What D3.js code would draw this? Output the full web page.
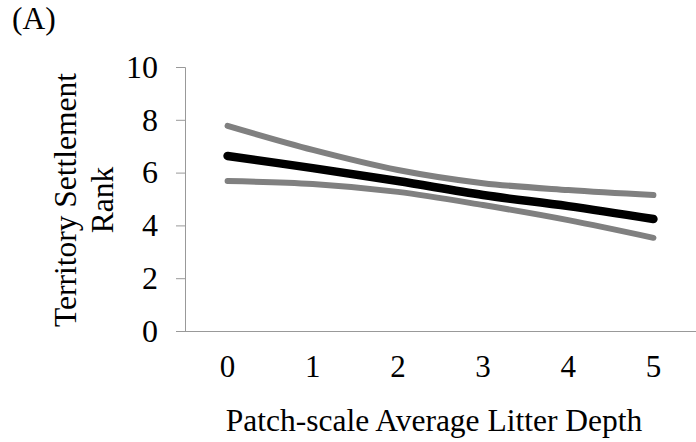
<!DOCTYPE html>
<html>
<head>
<meta charset="utf-8">
<script src="https://cdn.jsdelivr.net/npm/d3@7"></script>
<style>
  body { margin: 0; background: #fff; }
  text { font-family: "Liberation Serif", "Times New Roman", serif; fill: #000; }
</style>
</head>
<body>
<div id="chart"></div>
<script>
// litter depth categories and fitted settlement rank with bounds
const depths = [0, 1, 2, 3, 4, 5]
const fitted = [6.63, 6.17, 5.68, 5.15, 4.73, 4.24]
const upperBound = [7.77, 6.86, 6.1, 5.6, 5.34, 5.15]
const lowerBound = [5.68, 5.57, 5.27, 4.77, 4.2, 3.53]
const yTicks = [0, 2, 4, 6, 8, 10]

const W = 696
const H = 442
const margin = { top: 67, left: 185, right: 0, bottom: 111 }
const width = W - margin.left - margin.right
const height = H - margin.top - margin.bottom

const svg = d3
  .select('#chart')
  .append('svg')
  .attr('width', W)
  .attr('height', H)

const g = svg
  .append('g')
  .attr('transform', 'translate(' + margin.left + ',' + margin.top + ')')

const xScale = d3
  .scaleBand()
  .domain(depths)
  .range([0, width])

const yScale = d3
  .scaleLinear()
  .domain([0, 10])
  .range([height, 0])

// y axis
const yAxis = g
  .append('g')
  .call(d3.axisLeft(yScale).tickValues(yTicks).tickSize(9).tickPadding(18))
yAxis.select('.domain').attr('stroke', '#999')
yAxis.selectAll('.tick line').attr('stroke', '#999')
yAxis.selectAll('.tick text').style('font-size', '32px')

// x axis
const xAxis = g
  .append('g')
  .attr('transform', 'translate(0,' + height + ')')
  .call(d3.axisBottom(xScale).tickSize(0).tickPadding(24))
xAxis.select('.domain').attr('stroke', '#999').attr('d', 'M-9,0.5H' + width)
xAxis.selectAll('.tick text').style('font-size', '31px')

const line = d3
  .line()
  .x((d, i) => xScale(depths[i]) + xScale.bandwidth() / 2)
  .y(d => yScale(d))
  .curve(d3.curveCatmullRom)

const series = [
  { values: upperBound, color: '#808080', w: 6 },
  { values: lowerBound, color: '#808080', w: 6 },
  { values: fitted, color: '#000', w: 8.5 }
]

g.selectAll('.fit-line')
  .data(series)
  .enter()
  .append('path')
  .attr('class', 'fit-line')
  .attr('d', d => line(d.values))
  .attr('fill', 'none')
  .attr('stroke', d => d.color)
  .attr('stroke-width', d => d.w)
  .attr('stroke-linecap', 'round')

// titles
svg.append('text')
  .attr('x', 434)
  .attr('y', 431)
  .attr('text-anchor', 'middle')
  .style('font-size', '31.5px')
  .text('Patch-scale Average Litter Depth')

const yTitle = svg.append('text')
  .attr('transform', 'translate(65,200) rotate(-90)')
  .attr('text-anchor', 'middle')
  .style('font-size', '31.5px')
yTitle.append('tspan').attr('x', 0).attr('dy', '0.35em').text('Territory Settlement')
yTitle.append('tspan').attr('x', 0).attr('dy', '1.17em').text('Rank')

svg.append('text')
  .attr('x', 12)
  .attr('y', 29)
  .style('font-size', '31.5px')
  .text('(A)')
</script>
</body>
</html>
